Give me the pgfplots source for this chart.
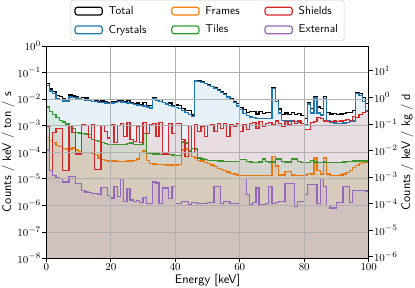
\documentclass[border=0pt]{standalone}
\usepackage{pgfplots}
\pgfplotsset{compat=1.18}
\usepackage{pgfplotstable}
\definecolor{cC}{HTML}{1F77B4}
\definecolor{cF}{HTML}{FF7F0E}
\definecolor{cG}{HTML}{2CA02C}
\definecolor{cS}{HTML}{D62728}
\definecolor{cE}{HTML}{9467BD}
\definecolor{gridc}{HTML}{B0B0B0}

\pgfplotstableread{
E C S G O P T
0 3.3e-2 9e-4 5e-3 3.5e-4 1.2e-4 3.94e-2
1 2.0e-2 2e-5 3.4e-3 2.8e-4 2e-5 2.37e-2
2 1.6e-2 5.5e-4 2.6e-3 2.3e-4 1.3e-5 1.94e-2
3 1.05e-2 8e-4 2.0e-3 1.8e-4 1.1e-5 1.35e-2
4 9.5e-3 8e-4 1.6e-3 1.6e-4 1e-5 1.21e-2
5 8.5e-3 2e-5 1.35e-3 1.4e-4 7.5e-6 1.0e-2
6 8.5e-3 2e-5 1.15e-3 1.3e-4 7.5e-6 9.8e-3
7 1.2e-2 1.0e-3 1.0e-3 1.3e-4 1.2e-5 1.41e-2
8 1.15e-2 5.5e-4 8e-4 1.45e-4 1.2e-5 1.30e-2
9 1.1e-2 8.5e-5 5.5e-4 1.2e-4 6.6e-6 1.18e-2
10 1.0e-2 8.5e-5 5.3e-4 1.05e-4 6.6e-6 1.07e-2
11 9.5e-3 1.1e-3 5.1e-4 1.0e-4 3.7e-6 1.12e-2
12 9.2e-3 1.0e-3 4.8e-4 1.0e-4 3.2e-6 1.08e-2
13 8.8e-3 3.5e-4 4.6e-4 9.5e-5 3.0e-6 9.7e-3
14 8.3e-3 1.1e-3 3.0e-4 9e-5 2.8e-6 9.8e-3
15 8.0e-3 2.2e-5 2.8e-4 8e-5 2.8e-6 8.4e-3
16 7.6e-3 2.2e-5 2.5e-4 6e-5 2.6e-6 7.9e-3
17 7.2e-3 1.0e-3 2.3e-4 5.2e-5 4.8e-6 8.5e-3
18 7.0e-3 6e-4 2.1e-4 4.9e-5 4.8e-6 7.9e-3
19 6.8e-3 3.4e-4 2.0e-4 4.7e-5 2.4e-6 7.4e-3
20 7.0e-3 1.1e-3 2.0e-4 4.6e-5 1.9e-6 8.3e-3
21 7.6e-3 2.3e-4 1.95e-4 4.6e-5 5e-6 8.1e-3
22 8.0e-3 1.0e-3 1.9e-4 4.5e-5 2.2e-6 9.2e-3
23 7.8e-3 1.2e-3 1.9e-4 4.5e-5 1e-5 9.2e-3
24 7.4e-3 4e-4 1.95e-4 4.5e-5 1.4e-6 8.0e-3
25 7.0e-3 1.3e-3 2.1e-4 4.6e-5 4.3e-6 8.6e-3
26 6.6e-3 3e-4 2.2e-4 4.7e-5 1.6e-6 7.2e-3
27 6.3e-3 2.5e-4 2.0e-4 4.8e-5 1.4e-6 6.8e-3
28 6.0e-3 9e-4 1.9e-4 5.5e-5 1.5e-6 7.1e-3
29 5.7e-3 2.3e-4 2.0e-4 1.0e-4 1.3e-6 6.2e-3
30 5.4e-3 1.3e-3 5e-4 1.1e-4 2e-6 7.3e-3
31 5.0e-3 5e-4 9e-5 5e-5 1.2e-6 5.6e-3
32 4.6e-3 1.1e-3 8.8e-5 3.8e-5 1.2e-6 5.8e-3
33 1.0e-2 1.2e-3 8.6e-5 3.6e-5 7.6e-6 1.13e-2
34 9.0e-3 4e-4 8.5e-5 3.5e-5 7e-6 9.5e-3
35 8.0e-3 1.3e-3 8.4e-5 3.4e-5 1.2e-6 9.4e-3
36 7.2e-3 8.5e-5 8.2e-5 3.4e-5 4.5e-6 7.4e-3
37 6.5e-3 8.5e-5 8.0e-5 3.3e-5 4.5e-6 6.7e-3
38 5.8e-3 1.2e-3 8.0e-5 3.3e-5 1.8e-6 7.1e-3
39 5.2e-3 5e-4 7.8e-5 3.3e-5 5e-6 5.8e-3
40 4.7e-3 1.2e-3 7.6e-5 3.3e-5 1.2e-6 6.0e-3
41 4.3e-3 1.2e-3 7.5e-5 3.4e-5 1.2e-6 5.6e-3
42 3.8e-3 3e-4 2.4e-4 1.2e-4 1.4e-6 4.5e-3
43 3.2e-3 7e-5 2.2e-4 1.3e-4 1.4e-6 3.6e-3
44 2.6e-3 1.0e-3 1.1e-4 1.0e-4 1.1e-6 3.8e-3
45 2.2e-3 1.0e-4 1.4e-4 7e-5 1.3e-6 2.5e-3
46 4.8e-2 1.1e-3 1.3e-4 6e-5 1.3e-6 4.93e-2
47 4.7e-2 6e-4 6e-5 5e-5 1.2e-6 4.77e-2
48 4.3e-2 9e-4 5.5e-5 4.6e-5 1.2e-6 4.40e-2
49 3.8e-2 4e-4 5.2e-5 4.2e-5 1.2e-6 3.85e-2
50 3.3e-2 1.0e-3 5e-5 3.8e-5 1.3e-6 3.41e-2
51 2.9e-2 1.1e-3 4.9e-5 3.3e-5 1.3e-6 3.02e-2
52 2.5e-2 6e-4 4.8e-5 2.9e-5 5e-6 2.57e-2
53 2.1e-2 1.2e-3 4.7e-5 2.5e-5 5e-6 2.23e-2
54 1.75e-2 8e-4 4.6e-5 2.2e-5 1.2e-6 1.84e-2
55 1.45e-2 1.2e-3 4.5e-5 2.0e-5 1.4e-6 1.58e-2
56 1.2e-2 4e-4 4.5e-5 1.8e-5 1.4e-6 1.25e-2
57 9.5e-3 1.1e-3 4.4e-5 1.6e-5 1.2e-6 1.07e-2
58 7.3e-3 9e-4 4.4e-5 1.5e-5 1.2e-6 8.3e-3
59 5.5e-3 1.2e-3 4.5e-5 1.4e-5 1.2e-6 6.8e-3
60 4.0e-3 6e-4 5.2e-5 1.35e-5 1e-5 4.7e-3
61 2.9e-3 1.1e-3 5.2e-5 1.3e-5 1e-5 4.1e-3
62 2.4e-3 7e-4 4.5e-5 1.3e-5 2.5e-6 3.2e-3
63 2.1e-3 1.2e-3 4.3e-5 1.3e-5 1.1e-6 3.4e-3
64 2.0e-3 1.3e-3 4.2e-5 1.3e-5 1.3e-6 3.35e-3
65 1.9e-3 8e-4 4.2e-5 1.3e-5 4.5e-6 2.75e-3
66 1.9e-3 1.4e-3 4.3e-5 1.3e-5 1.1e-6 3.35e-3
67 1.85e-3 9e-4 5.5e-5 1.3e-5 1.1e-6 2.8e-3
68 1.8e-3 1.2e-3 4.5e-5 1.3e-5 1.2e-6 3.05e-3
69 1.8e-3 1.3e-3 4.3e-5 1.3e-5 5e-6 3.15e-3
70 2.5e-2 1.1e-3 4.3e-5 7e-5 1.2e-6 2.62e-2
71 8.0e-3 1.5e-3 5.5e-5 3e-5 1.3e-6 9.6e-3
72 3.0e-3 1.2e-3 5.5e-5 1.4e-5 1.4e-6 4.25e-3
73 1.6e-3 9e-4 4.5e-5 1.4e-5 1.4e-6 2.55e-3
74 1.5e-3 1.4e-3 4.3e-5 1.9e-5 6.6e-6 2.95e-3
75 1.5e-3 1.1e-3 4.3e-5 1.9e-5 6.6e-6 2.65e-3
76 1.4e-3 1.6e-3 5.5e-5 1.4e-5 6.6e-6 3.05e-3
77 1.4e-3 1.2e-3 5.5e-5 1.3e-5 9e-7 2.65e-3
78 1.3e-3 1.5e-3 4.4e-5 1.3e-5 1.4e-6 2.85e-3
79 1.2e-3 1.2e-3 4.2e-5 1.3e-5 1.4e-6 2.45e-3
80 1.1e-3 7e-4 4.1e-5 1.4e-5 2.5e-6 1.85e-3
81 6.5e-3 7e-4 4.1e-5 1.6e-5 6e-6 7.25e-3
82 3.0e-3 1.3e-3 4.8e-5 1.5e-5 6e-6 4.35e-3
83 1.1e-2 1.4e-3 4.3e-5 6e-5 6e-6 1.25e-2
84 3.0e-3 2.0e-3 4.2e-5 2e-5 1.2e-6 5.05e-3
85 2.5e-3 1.9e-3 4.2e-5 1.5e-5 1e-5 4.45e-3
86 1.05e-2 1.5e-3 4.3e-5 6e-5 5e-6 1.21e-2
87 1.6e-3 1.4e-3 4.2e-5 1.5e-5 1e-6 3.05e-3
88 1.3e-3 1.4e-3 4.1e-5 1.3e-5 8e-7 2.75e-3
89 1.25e-3 1.5e-3 4.1e-5 1.3e-5 8e-7 2.8e-3
90 1.2e-3 1.4e-3 4.1e-5 1.3e-5 1.3e-6 2.65e-3
91 1.2e-3 1.5e-3 4.2e-5 1.4e-5 1.3e-6 2.75e-3
92 1.25e-3 1.6e-3 4.3e-5 1.5e-5 5e-6 2.9e-3
93 1.3e-3 1.7e-3 4.5e-5 1.7e-5 5e-6 3.05e-3
94 1.4e-3 1.6e-3 4.5e-5 2.1e-5 1.3e-6 3.05e-3
95 1.5e-3 2.2e-3 4.6e-5 2.6e-5 3.7e-6 3.75e-3
96 1.6e-2 2.0e-3 4.7e-5 3.2e-5 3.7e-6 1.8e-2
97 1.35e-2 2.6e-3 4.7e-5 3.8e-5 3.7e-6 1.62e-2
98 8.0e-3 3.2e-3 4.6e-5 4.2e-5 3.7e-6 1.13e-2
99 3.5e-3 3.4e-3 4.7e-5 4.3e-5 3.5e-6 6.95e-3
100 3.5e-3 3.4e-3 4.7e-5 4.3e-5 3.5e-6 6.95e-3
}\data

\pgfplotsset{
  common/.style={
    scale only axis, width=273pt, height=180pt,
    xmin=0, xmax=100,
    yminorticks=false,
    tick align=outside,
    major tick length=3.3pt,
    tick style={black, line width=0.6pt},
    axis line style={line width=0.6pt},
    tick label style={font=\fontsize{9.3}{11}\selectfont, inner sep=1pt},
    label style={font=\sffamily\fontsize{10.5}{12}\selectfont, inner sep=1.5pt},
  }
}

\begin{document}
\begin{tikzpicture}
\begin{axis}[
  common,
  ymode=log, log origin y=infty,
  ymin=1e-8, ymax=1,
  xtick={0,20,40,60,80,100},
  ytick={1e-8,1e-7,1e-6,1e-5,1e-4,1e-3,1e-2,1e-1,1},
  tick pos=left,
  grid=major, major grid style={gridc, line width=0.6pt},
  axis on top,
  xlabel={Energy [keV]},
  ylabel={Counts / keV / ton / s},
  legend columns=3,
  legend cell align=left,
  legend style={at={(0.5,1.023)}, anchor=south, draw=black!20, rounded corners=2pt,
    font=\sffamily\fontsize{9.7}{11}\selectfont, inner xsep=3pt, inner ysep=3pt,
    row sep=3.5pt,
    /tikz/every odd column/.append style={column sep=3pt},
    /tikz/every even column/.append style={column sep=19pt}},
  legend image code/.code={\draw[#1, line width=1pt] (0pt,-3.3pt) rectangle (23pt,3.3pt);},
  every axis plot/.append style={const plot mark left, no markers, line width=1.1pt},
]
\addlegendimage{draw=black, fill=white}\addlegendentry{Total}
\addlegendimage{draw=cF, fill=white}\addlegendentry{Frames}
\addlegendimage{draw=cS, fill=white}\addlegendentry{Shields}
\addlegendimage{draw=cC, fill=white}\addlegendentry{Crystals}
\addlegendimage{draw=cG, fill=white}\addlegendentry{Tiles}
\addlegendimage{draw=cE, fill=white}\addlegendentry{External}

\addplot[forget plot, draw=black] table[x=E, y=T] {\data};
\addplot[forget plot, draw=cC, fill=cC, fill opacity=0.1] table[x=E, y=C] {\data} \closedcycle;
\addplot[forget plot, draw=cF, fill=cF, fill opacity=0.1] table[x=E, y=O] {\data} \closedcycle;
\addplot[forget plot, draw=cG, fill=cG, fill opacity=0.1] table[x=E, y=G] {\data} \closedcycle;
\addplot[forget plot, draw=cS, fill=cS, fill opacity=0.1] table[x=E, y=S] {\data} \closedcycle;
\addplot[forget plot, draw=cE, fill=cE, fill opacity=0.1] table[x=E, y=P] {\data} \closedcycle;
\end{axis}
\begin{axis}[
  common,
  ymode=log,
  hide x axis,
  axis y line*=right,
  ymin=8.64e-7, ymax=86.4,
  ytick={1e-6,1e-5,1e-4,1e-3,1e-2,1e-1,1,10},
  ylabel={Counts / keV / kg / d},
]
\end{axis}
\end{tikzpicture}
\end{document}
